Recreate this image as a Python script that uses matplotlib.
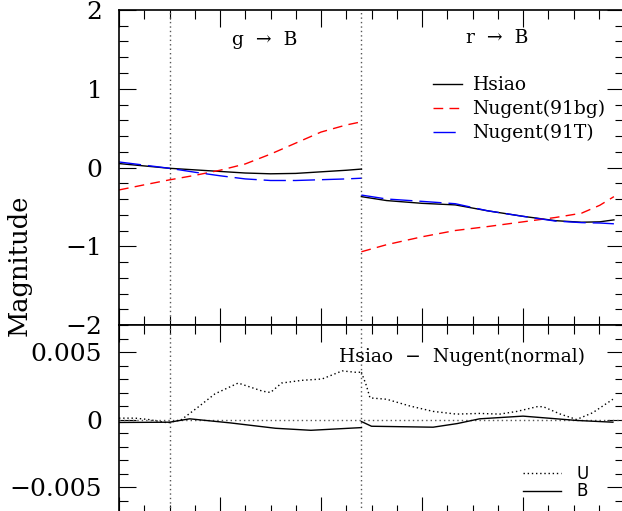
import matplotlib
matplotlib.use("Agg")
import matplotlib.pyplot as plt
from matplotlib.ticker import MultipleLocator, NullFormatter

# ---------------- data ----------------
z_g = [0.0, 0.025, 0.05, 0.075, 0.1, 0.125, 0.15, 0.175, 0.2, 0.225, 0.24]
hsiao_g = [0.05, 0.02, -0.01, -0.03, -0.05, -0.07, -0.08, -0.075, -0.055, -0.035, -0.02]
n91bg_g = [-0.285, -0.22, -0.157, -0.10, -0.035, 0.045, 0.17, 0.31, 0.45, 0.54, 0.58]
n91t_g = [0.07, 0.03, -0.01, -0.06, -0.105, -0.145, -0.165, -0.165, -0.155, -0.145, -0.136]

z_r = [0.24, 0.265, 0.3, 0.333, 0.365, 0.4, 0.432, 0.458, 0.476, 0.49]
hsiao_r = [-0.37, -0.42, -0.455, -0.475, -0.55, -0.62, -0.675, -0.695, -0.69, -0.665]
n91bg_r = [-1.07, -0.98, -0.88, -0.80, -0.75, -0.69, -0.635, -0.58, -0.48, -0.37]
n91t_r = [-0.35, -0.40, -0.43, -0.46, -0.55, -0.62, -0.68, -0.70, -0.705, -0.715]

zu_g = [0.0, 0.016, 0.029, 0.0485, 0.062, 0.078, 0.095, 0.118, 0.142, 0.15, 0.161,
        0.181, 0.201, 0.221, 0.234, 0.24]
du_g = [0.0001, 0.0001, 0.0, -0.00025, 0.0, 0.0009, 0.0019, 0.0027, 0.0021, 0.0020,
        0.0027, 0.0029, 0.0030, 0.0036, 0.0035, 0.0035]
zu_r = [0.24, 0.245, 0.2485, 0.265, 0.288, 0.311, 0.334, 0.357, 0.377, 0.394, 0.414,
        0.42, 0.437, 0.453, 0.469, 0.489]
du_r = [0.0035, 0.0025, 0.0016, 0.0015, 0.001, 0.0006, 0.0004, 0.00045, 0.0004,
        0.0006, 0.00095, 0.00095, 0.0004, 0.0, 0.0005, 0.0015]

zb_g = [0.0, 0.05, 0.07, 0.11, 0.155, 0.19, 0.24]
db_g = [-0.00022, -0.0002, 0.00005, -0.00025, -0.00065, -0.0008, -0.0006]
zb_r = [0.24, 0.25, 0.311, 0.335, 0.357, 0.4, 0.43, 0.453, 0.489]
db_r = [-0.00015, -0.0005, -0.00057, -0.0003, 0.00005, 0.00025, 0.00007, -0.00007, -0.0002]

z_split = [0.05, 0.24]
top_yticks = [-2, -1, 0, 1, 2]
top_yticklabels = ["\u22122", "\u22121", "0", "1", "2"]
bot_yticks = [-0.005, 0, 0.005]
bot_yticklabels = ["\u22120.005", "0", "0.005"]

# ---------------- figure ----------------
W, H = 622, 511
fig = plt.figure(figsize=(W / 100, H / 100), dpi=100)
left = 119 / W
width = 505 / W
ax1 = fig.add_axes([left, 1 - 325 / H, width, 315 / H])
ax2 = fig.add_axes([left, 1 - 514 / H, width, 189 / H])

serif = "DejaVu Serif"

for ax in (ax1, ax2):
    ax.set_xlim(0, 0.5)
    ax.xaxis.set_major_locator(MultipleLocator(0.1))
    ax.xaxis.set_minor_locator(MultipleLocator(0.025))
    ax.xaxis.set_major_formatter(NullFormatter())
    ax.tick_params(which="both", direction="in", top=True, right=True, width=0.8)
    ax.tick_params(which="major", length=12.2, labelsize=18, pad=12)
    ax.tick_params(which="minor", length=6.5)
    for sp in ax.spines.values():
        sp.set_linewidth(1.2)
    for zs in z_split:
        ax.axvline(zs, color="#555555", lw=1.0, linestyle=(0, (1, 2.2)))

# top panel
ax1.set_ylim(-2, 2)
ax1.set_yticks(top_yticks)
ax1.set_yticklabels(top_yticklabels, family=serif)
ax1.yaxis.set_minor_locator(MultipleLocator(0.2))

ax1.plot(z_g, hsiao_g, color="black", lw=1.0, label="Hsiao")
ax1.plot(z_r, hsiao_r, color="black", lw=1.0)
ax1.plot(z_g, n91bg_g, color="#ff0000", lw=1.0, dashes=(7, 4.5), label="Nugent(91bg)")
ax1.plot(z_r, n91bg_r, color="#ff0000", lw=1.0, dashes=(7, 4.5))
ax1.plot(z_g, n91t_g, color="#0000ff", lw=1.0, dashes=(16, 5), label="Nugent(91T)")
ax1.plot(z_r, n91t_r, color="#0000ff", lw=1.0, dashes=(16, 5))

ax1.legend(loc="upper left", bbox_to_anchor=(0.622, 0.79), frameon=False,
           borderpad=0, borderaxespad=0, handlelength=1.55, handletextpad=0.55,
           labelspacing=0.31, prop={"family": serif, "size": 13.5})

ax1.text((265 - 119) / 505, (325 - 40) / 315, "g  \u2192  B", transform=ax1.transAxes,
         ha="center", va="center", family=serif, fontsize=13.5)
ax1.text((497 - 119) / 505, (325 - 38) / 315, "r  \u2192  B", transform=ax1.transAxes,
         ha="center", va="center", family=serif, fontsize=13.5)

# bottom panel
ax2.set_ylim(-0.007, 0.007)
ax2.set_yticks(bot_yticks)
ax2.set_yticklabels(bot_yticklabels, family=serif)
ax2.yaxis.set_minor_locator(MultipleLocator(0.001))
ax2.axhline(0, color="#555555", lw=1.0, linestyle=(0, (1, 2.2)))

ax2.plot(zu_g, du_g, color="black", lw=1.0, linestyle=(0, (1, 2)), label="U")
ax2.plot(zu_r, du_r, color="black", lw=1.0, linestyle=(0, (1, 2)))
ax2.plot(zb_g, db_g, color="black", lw=1.0, label="B")
ax2.plot(zb_r, db_r, color="black", lw=1.0)

ax2.legend(loc="upper left", bbox_to_anchor=(0.80, 0.258), frameon=False,
           borderpad=0, borderaxespad=0, handlelength=2.3, handletextpad=0.9,
           labelspacing=-0.05, prop={"family": "DejaVu Sans", "size": 12})

ax2.text((462 - 119) / 505, (514 - 357) / 189, "Hsiao  \u2212  Nugent(normal)",
         transform=ax2.transAxes, ha="center", va="center", family=serif, fontsize=13.5)

fig.text(19 / W, 1 - 265 / H, "Magnitude", rotation=90, ha="center", va="center",
         family=serif, fontsize=18.5)

fig.savefig("out.png", dpi=100)
